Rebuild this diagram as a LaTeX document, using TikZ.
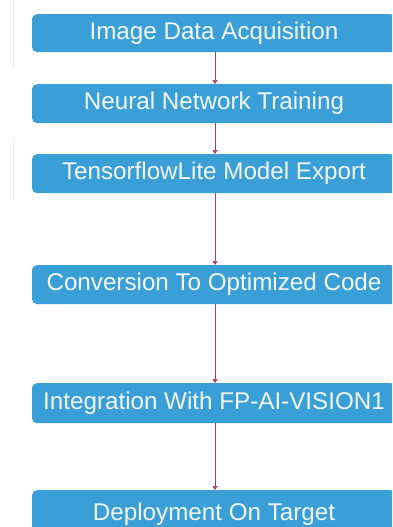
\documentclass[tikz,border=0pt]{standalone}
\usepackage{fontspec}
\setmainfont{Liberation Sans}
\usetikzlibrary{arrows.meta}
\definecolor{boxblue}{HTML}{3A9FD7}
\definecolor{arrowred}{HTML}{B23A66}
\definecolor{faint}{HTML}{EBEBEB}
\definecolor{boxtext}{HTML}{F2F8FC}
\begin{document}
\begin{tikzpicture}[x=1pt,y=-1pt,
  stepbox/.style={fill=boxblue, rounded corners=5pt, text=boxtext, font=\fontsize{24.2}{26}\selectfont, inner sep=0pt, minimum width=364pt, anchor=north},
  flow/.style={draw=arrowred, line width=0.6pt, -{Triangle[width=5pt,length=4pt]}}]
\useasboundingbox (0,0) rectangle (392,527);
\clip (0,0) rectangle (392,527);
\fill[white] (0,0) rectangle (392,527);
\draw[faint, line width=1.2pt] (13.5,0) -- (13.5,68);
\draw[faint, line width=1.2pt] (13.5,138) -- (13.5,200);
\node[stepbox, minimum height=38pt] (b1) at (214,14) {Image Data Acquisition};
\node[stepbox, minimum height=39pt] (b2) at (214,84) {Neural Network Training};
\node[stepbox, minimum height=39pt] (b3) at (214,154) {TensorflowLite Model Export};
\node[stepbox, minimum height=39pt] (b4) at (214,265) {Conversion To Optimized Code};
\node[stepbox, minimum height=40pt] (b5) at (214,383) {Integration With FP-AI-VISION1};
\node[stepbox, minimum height=54pt, text depth=0pt] (b6) at (214,490) {\raisebox{10pt}{Deployment On Target}};
\draw[flow] (b1.south -| 215,0) -- (b2.north -| 215,0);
\draw[flow] (b2.south -| 215,0) -- (b3.north -| 215,0);
\draw[flow] (b3.south -| 215,0) -- (b4.north -| 215,0);
\draw[flow] (b4.south -| 215,0) -- (b5.north -| 215,0);
\draw[flow] (b5.south -| 215,0) -- (b6.north -| 215,0);
\end{tikzpicture}
\end{document}
